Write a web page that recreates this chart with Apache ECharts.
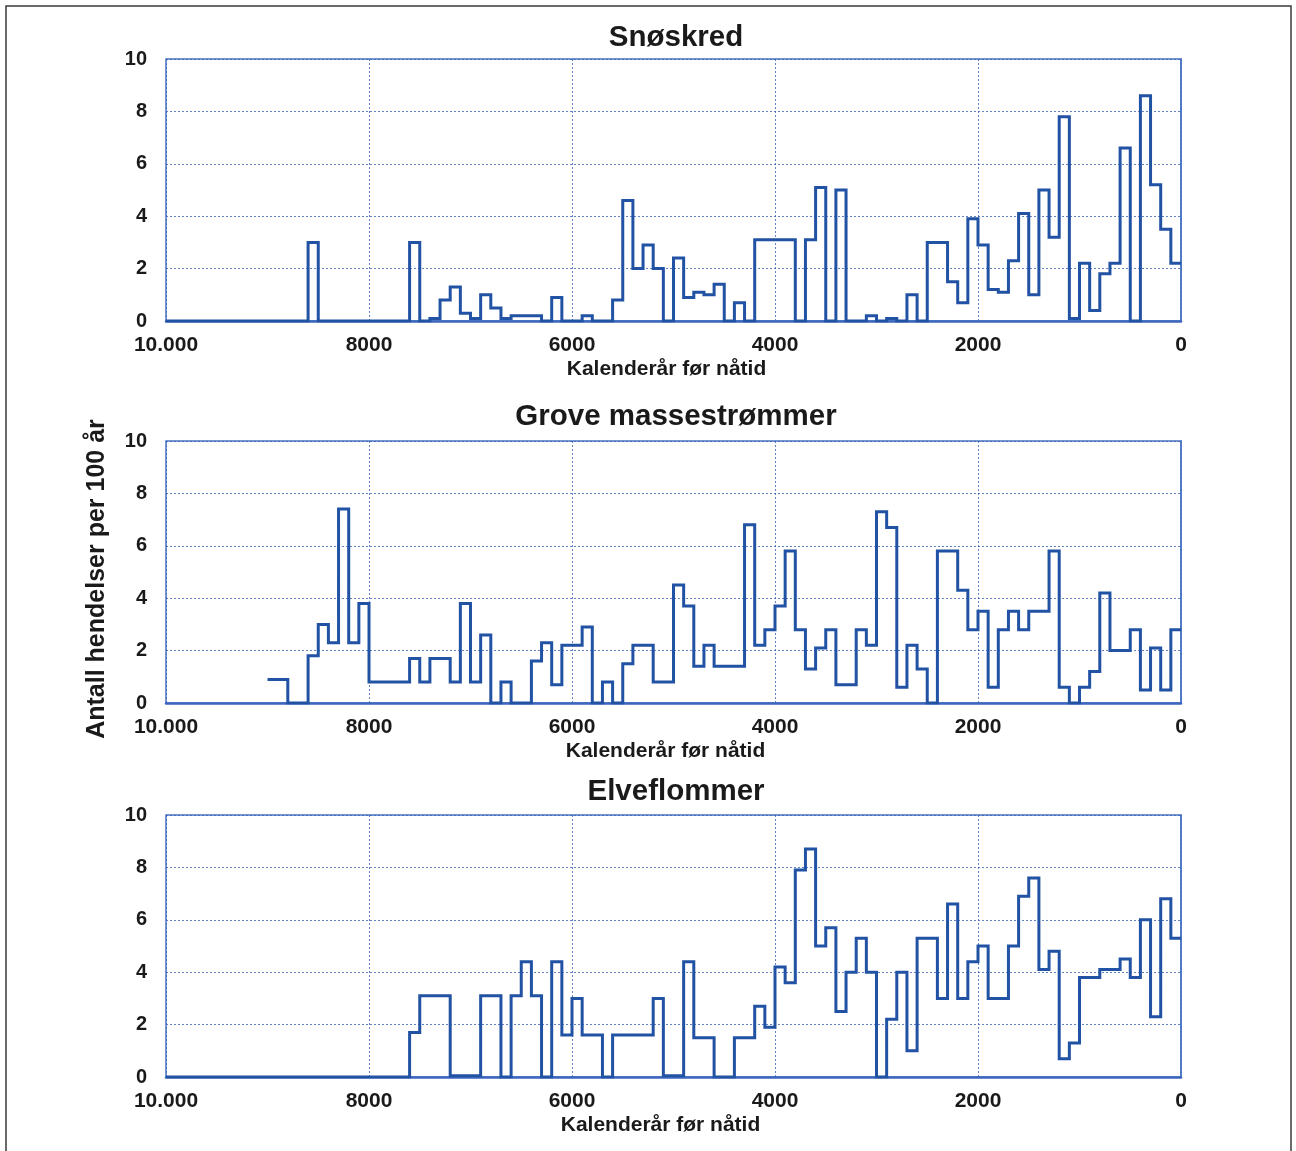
<!DOCTYPE html>
<html>
<head>
<meta charset="utf-8">
<script src="https://cdn.jsdelivr.net/npm/echarts@6/dist/echarts.min.js"></script>
<style>
html,body{margin:0;padding:0;background:#fff;}
#chart{width:1296px;height:1151px;}
</style>
</head>
<body>
<div id="chart"></div>
<script>
// Events per 100 years, one value per century bin, from 10000–9900 (first) to 100–0 (last)
const YEAR_MAX = 10000;
const BIN_WIDTH = 100;
const xTicks = [10000, 8000, 6000, 4000, 2000, 0];
const yTicks = [0, 2, 4, 6, 8, 10];
const panelTitles = ['Snøskred', 'Grove massestrømmer', 'Elveflommer'];
const xAxisTitle = 'Kalenderår før nåtid';
const yAxisTitle = 'Antall hendelser per 100 år';

const snowAvalanches = [
  0, 0, 0, 0, 0, 0, 0, 0, 0, 0,
  0, 0, 0, 0, 3.0, 0, 0, 0, 0, 0,
  0, 0, 0, 0, 3.0, 0, 0.1, 0.8, 1.3, 0.3,
  0.1, 1.0, 0.5, 0.1, 0.2, 0.2, 0.2, 0, 0.9, 0,
  0, 0.2, 0, 0, 0.8, 4.6, 2.0, 2.9, 2.0, 0,
  2.4, 0.9, 1.1, 1.0, 1.4, 0, 0.7, 0, 3.1, 3.1,
  3.1, 3.1, 0, 3.1, 5.1, 0, 5.0, 0, 0, 0.2,
  0, 0.1, 0, 1.0, 0, 3.0, 3.0, 1.5, 0.7, 3.9,
  2.9, 1.2, 1.1, 2.3, 4.1, 1.0, 5.0, 3.2, 7.8, 0.1,
  2.2, 0.4, 1.8, 2.2, 6.6, 0, 8.6, 5.2, 3.5, 2.2
];

const debrisFlows = [
  null, null, null, null, null, null, null, null, null, null,
  0.9, 0.9, 0, 0, 1.8, 3.0, 2.3, 7.4, 2.3, 3.8,
  0.8, 0.8, 0.8, 0.8, 1.7, 0.8, 1.7, 1.7, 0.8, 3.8,
  0.8, 2.6, 0, 0.8, 0, 0, 1.6, 2.3, 0.7, 2.2,
  2.2, 2.9, 0, 0.8, 0, 1.5, 2.2, 2.2, 0.8, 0.8,
  4.5, 3.7, 1.4, 2.2, 1.4, 1.4, 1.4, 6.8, 2.2, 2.8,
  3.7, 5.8, 2.8, 1.3, 2.1, 2.8, 0.7, 0.7, 2.8, 2.2,
  7.3, 6.7, 0.6, 2.2, 1.3, 0, 5.8, 5.8, 4.3, 2.8,
  3.5, 0.6, 2.8, 3.5, 2.8, 3.5, 3.5, 5.8, 0.6, 0,
  0.6, 1.2, 4.2, 2.0, 2.0, 2.8, 0.5, 2.1, 0.5, 2.8
];

const riverFloods = [
  0, 0, 0, 0, 0, 0, 0, 0, 0, 0,
  0, 0, 0, 0, 0, 0, 0, 0, 0, 0,
  0, 0, 0, 0, 1.7, 3.1, 3.1, 3.1, 0.05, 0.05,
  0.05, 3.1, 3.1, 0, 3.1, 4.4, 3.1, 0, 4.4, 1.6,
  3.0, 1.6, 1.6, 0, 1.6, 1.6, 1.6, 1.6, 3.0, 0.05,
  0.05, 4.4, 1.5, 1.5, 0, 0, 1.5, 1.5, 2.7, 1.9,
  4.2, 3.6, 7.9, 8.7, 5.0, 5.7, 2.5, 4.0, 5.3, 4.0,
  0, 2.2, 4.0, 1.0, 5.3, 5.3, 3.0, 6.6, 3.0, 4.4,
  5.0, 3.0, 3.0, 5.0, 6.9, 7.6, 4.1, 4.8, 0.7, 1.3,
  3.8, 3.8, 4.1, 4.1, 4.5, 3.8, 6.0, 2.3, 6.8, 5.3
];

const seriesValues = [snowAvalanches, debrisFlows, riverFloods];

// step data: each point is [bin start year, value]; final point closes the last bin at year 0
function stepData(values) {
  const pts = values.map((v, i) => [YEAR_MAX - i * BIN_WIDTH, v]);
  pts.push([YEAR_MAX - values.length * BIN_WIDTH, values[values.length - 1]]);
  return pts;
}

const FONT = '"Liberation Sans", Arial, sans-serif';
const LINE_BLUE = '#2152a3';
const FRAME_BLUE = '#4a74c4';
const GRID_BLUE = '#3a63b8';

const gridTops = [59, 441, 815];
const gridHeight = 262;
const titleTops = [18, 397, 772];
const xNameShift = [14, 16, 26];

const grids = gridTops.map(t => ({
  left: 166, width: 1015, top: t, height: gridHeight,
  show: true, borderColor: FRAME_BLUE, borderWidth: 1.5, backgroundColor: 'transparent'
}));

const xAxes = gridTops.map((t, i) => ({
  type: 'value', gridIndex: i, min: 0, max: YEAR_MAX, interval: 2000, inverse: true,
  name: xAxisTitle, nameLocation: 'middle', nameGap: 38,
  nameTextStyle: { fontFamily: FONT, fontWeight: 'bold', fontSize: 21, color: '#1a1a1a',
                   padding: [0, xNameShift[i], 0, 0] },
  axisLine: { show: true, lineStyle: { color: '#3c67bd', width: 2.5 } },
  axisTick: { show: false },
  axisLabel: {
    margin: 14, fontFamily: FONT, fontWeight: 'bold', fontSize: 21, color: '#1a1a1a',
    formatter: v => (v === 10000 ? '10.000' : String(v))
  },
  splitLine: { show: true, lineStyle: { color: GRID_BLUE, type: [2, 2], width: 1, opacity: 0.8 } }
}));

const yAxes = gridTops.map((t, i) => ({
  type: 'value', gridIndex: i, min: 0, max: 10, interval: 2,
  name: i === 1 ? yAxisTitle : '',
  nameLocation: 'middle', nameGap: 56, nameRotate: 90,
  nameTextStyle: { fontFamily: FONT, fontWeight: 'bold', fontSize: 25, color: '#1a1a1a',
                   padding: [0, 14, 0, 0] },
  axisLine: { show: true, lineStyle: { color: FRAME_BLUE, width: 1.5 } },
  axisTick: { show: false },
  axisLabel: { margin: 19, fontFamily: FONT, fontWeight: 'bold', fontSize: 20, color: '#1a1a1a' },
  splitLine: { show: true, lineStyle: { color: GRID_BLUE, type: [2, 2], width: 1, opacity: 0.8 } }
}));

const series = seriesValues.map((vals, i) => ({
  type: 'line', xAxisIndex: i, yAxisIndex: i, step: 'end',
  data: stepData(vals), showSymbol: false, symbol: 'none', connectNulls: false,
  lineStyle: { color: LINE_BLUE, width: 3, join: 'miter' },
  z: 3
}));

const titles = panelTitles.map((t, i) => ({
  text: t, left: 671, top: titleTops[i], textAlign: 'center',
  textStyle: { fontFamily: FONT, fontWeight: 'bold', fontSize: 29.5, color: '#1a1a1a' }
}));

const chart = echarts.init(document.getElementById('chart'), null, { renderer: 'canvas' });
chart.setOption({
  animation: false,
  backgroundColor: '#ffffff',
  title: titles,
  grid: grids,
  xAxis: xAxes,
  yAxis: yAxes,
  series: series,
  graphic: [{
    type: 'rect', silent: true, z: 100,
    shape: { x: 6, y: 6, width: 1285, height: 1170 },
    style: { fill: 'none', stroke: '#3a3a3a', lineWidth: 1.5 }
  }]
});
</script>
</body>
</html>
